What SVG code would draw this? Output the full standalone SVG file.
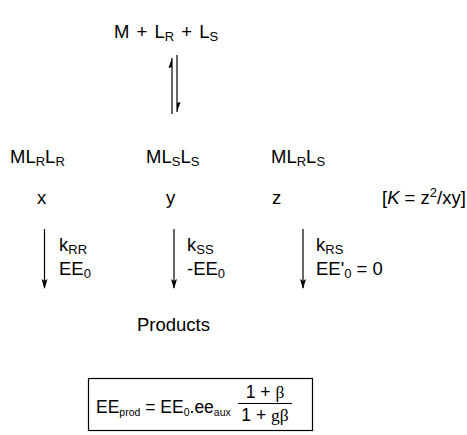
<svg xmlns="http://www.w3.org/2000/svg" width="467" height="435" viewBox="0 0 467 435">
<style>
text{font-family:"Liberation Sans",Arial,sans-serif;font-size:18.5px;fill:#000}
.s{font-size:13px}
.f{font-size:17.5px}
.fs{font-size:10.5px}
.g{font-family:"Liberation Serif","Times New Roman",serif}
.ln{stroke:#000;stroke-width:1.2;fill:none}
</style>
<defs>
<marker id="ah" viewBox="0 0 10 10" refX="9" refY="5" markerWidth="10" markerHeight="10" markerUnits="userSpaceOnUse" orient="auto">
<path d="M0,2 L10,5 L0,8 L2,5 Z" fill="#000"/>
</marker>
</defs>
<g id="reactants"><text x="114" y="38" font-size="19" word-spacing="2">M + L<tspan class="s" dy="3">R</tspan><tspan dy="-3"> + L</tspan><tspan class="s" dy="3">S</tspan></text></g>
<g id="complex-RR"><text x="10" y="163">ML<tspan class="s" dy="3">R</tspan><tspan dy="-3">L</tspan><tspan class="s" dy="3">R</tspan></text>
<text x="37" y="204">x</text></g>
<g id="complex-SS"><text x="146" y="163">ML<tspan class="s" dy="3">S</tspan><tspan dy="-3">L</tspan><tspan class="s" dy="3">S</tspan></text>
<text x="166" y="204">y</text></g>
<g id="complex-RS"><text x="271" y="163">ML<tspan class="s" dy="3">R</tspan><tspan dy="-3">L</tspan><tspan class="s" dy="3">S</tspan></text>
<text x="272" y="204">z</text></g>
<g id="K"><text x="382" y="204" font-size="18">[<tspan font-style="italic">K</tspan> = z<tspan class="s" dy="-7">2</tspan><tspan dy="7">/xy]</tspan></text></g>
<g id="connectors">
<line class="ln" x1="172" y1="58" x2="172" y2="114"/>
<path d="M172,58 L168.5,68 L172,67 Z" fill="#000"/>
<line class="ln" x1="177" y1="55" x2="177" y2="112"/>
<path d="M177,112 L180.5,102 L177,103 Z" fill="#000"/>
<line class="ln" x1="44.5" y1="229" x2="44.5" y2="288" marker-end="url(#ah)"/>
<line class="ln" x1="174" y1="229" x2="174" y2="288" marker-end="url(#ah)"/>
<line class="ln" x1="303" y1="229" x2="303" y2="288" marker-end="url(#ah)"/>
</g>
<g id="labels-RR"><text x="59" y="251">k<tspan class="s" dy="3">RR</tspan></text>
<text x="59" y="275">EE<tspan class="s" dy="3">0</tspan></text></g>
<g id="labels-SS"><text x="187" y="251">k<tspan class="s" dy="3">SS</tspan></text>
<text x="187" y="275">-EE<tspan class="s" dy="3">0</tspan></text></g>
<g id="labels-RS"><text x="316" y="251">k<tspan class="s" dy="3">RS</tspan></text>
<text x="316" y="275">EE'<tspan class="s" dy="3">0</tspan><tspan dy="-3"> = 0</tspan></text></g>
<g id="products"><text x="137" y="331">Products</text></g>
<g id="formula">
<rect x="88.5" y="378.5" width="224" height="52" fill="none" stroke="#000" stroke-width="1.2"/>
<text class="f" x="96" y="413">EE<tspan class="fs" dy="3">prod</tspan><tspan dy="-3"> = EE</tspan><tspan class="fs" dy="3">0</tspan><tspan dy="-3">.ee</tspan><tspan class="fs" dy="3">aux</tspan></text>
<text class="f" x="265" y="398" text-anchor="middle">1 + <tspan class="g">β</tspan></text>
<line x1="238" y1="403.5" x2="292" y2="403.5" stroke="#000" stroke-width="1"/>
<text class="f" x="265" y="421" text-anchor="middle">1 + <tspan class="g">gβ</tspan></text>
</g>
</svg>
